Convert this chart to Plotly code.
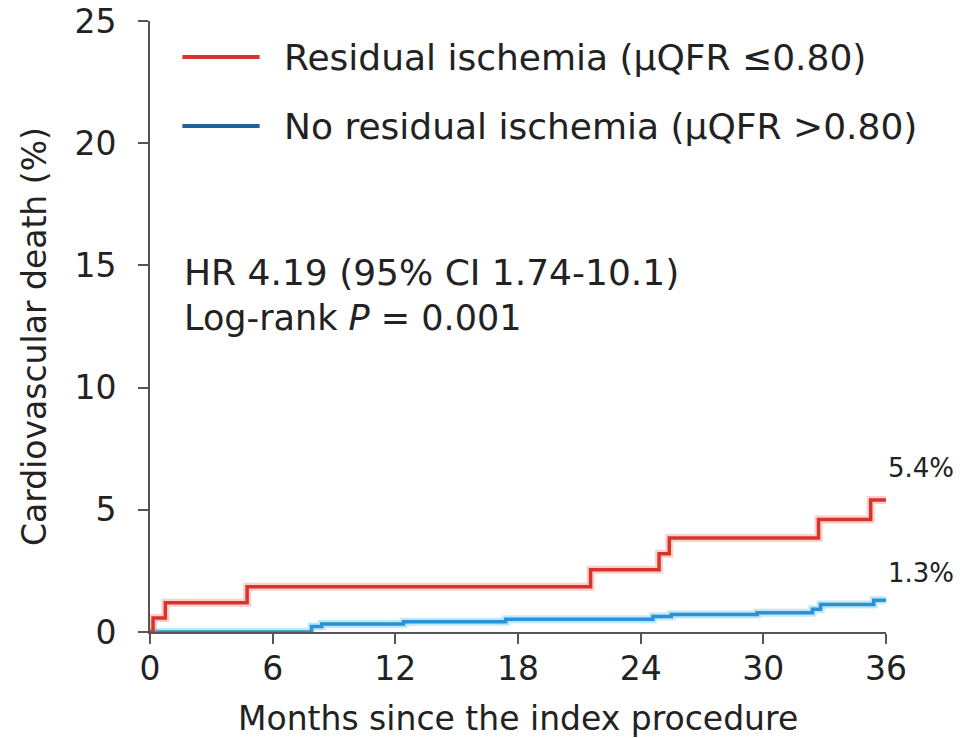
import plotly.graph_objects as go

# Kaplan-Meier cumulative incidence of cardiovascular death (%)
red_months = [0, 0.15, 0.75, 4.75, 21.55, 24.9, 25.4, 32.7, 35.25, 36]
red_pct = [0, 0.57, 1.2, 1.85, 2.55, 3.2, 3.85, 4.6, 5.4, 5.4]

blue_months = [0, 7.9, 8.4, 12.4, 17.4, 24.6, 25.5, 29.7, 32.4, 32.8, 35.4, 36]
blue_pct = [0, 0.22, 0.33, 0.42, 0.52, 0.63, 0.72, 0.79, 0.93, 1.13, 1.3, 1.3]

series_names = ["Residual ischemia (µQFR ≤0.80)", "No residual ischemia (µQFR >0.80)"]
end_labels = ["5.4%", "1.3%"]
x_ticks = [0, 6, 12, 18, 24, 30, 36]
y_ticks = [0, 5, 10, 15, 20, 25]

FONT = "DejaVu Sans"
TXT = "#222222"
RED = "#d8342c"
RED_HALO = "rgba(240,120,110,0.35)"
BLUE = "#2a92d2"
BLUE_HALO = "rgba(120,200,245,0.45)"
BLUE_LEGEND = "#24609c"
AXIS = "#555555"

fig = go.Figure()

# soft halo under each step curve, then the curve itself
for xs, ys, halo, col in [(blue_months, blue_pct, BLUE_HALO, BLUE),
                          (red_months, red_pct, RED_HALO, RED)]:
    fig.add_trace(go.Scatter(x=xs, y=ys, mode="lines", line=dict(color=halo, width=8, shape="hv"),
                             hoverinfo="skip", showlegend=False, cliponaxis=False))
    fig.add_trace(go.Scatter(x=xs, y=ys, mode="lines", line=dict(color=col, width=3.5, shape="hv"),
                             showlegend=False, cliponaxis=False))

annotations = []
shapes = []

# legend drawn as line samples plus labels
for i, (name, col) in enumerate(zip(series_names, [RED, BLUE_LEGEND])):
    yp = [0.941, 0.828][i]
    shapes.append(dict(type="line", xref="paper", yref="paper", x0=0.044, x1=0.149, y0=yp, y1=yp,
                       line=dict(color=col, width=4)))
    annotations.append(dict(xref="paper", yref="paper", x=0.179, y=yp, text=name, showarrow=False,
                            xanchor="left", yanchor="middle", font=dict(family=FONT, size=36, color=TXT)))

# statistics text
annotations.append(dict(xref="paper", yref="paper", x=0.043, y=0.589, text="HR 4.19 (95% CI 1.74-10.1)",
                        showarrow=False, xanchor="left", yanchor="middle",
                        font=dict(family=FONT, size=36, color=TXT)))
annotations.append(dict(xref="paper", yref="paper", x=0.043, y=0.514, text="Log-rank <i>P</i> = 0.001",
                        showarrow=False, xanchor="left", yanchor="middle",
                        font=dict(family=FONT, size=35, color=TXT)))

# end-of-follow-up values
for xs, ys, lab, shift in [(red_months, red_pct, end_labels[0], 32), (blue_months, blue_pct, end_labels[1], 27)]:
    annotations.append(dict(x=xs[-1], y=ys[-1], text=lab, showarrow=False, xanchor="left", yanchor="middle",
                            xshift=0, yshift=shift, font=dict(family=FONT, size=26, color=TXT)))

# axis titles
annotations.append(dict(xref="paper", yref="paper", x=0.5, y=-0.1408, text="Months since the index procedure",
                        showarrow=False, xanchor="center", yanchor="middle",
                        font=dict(family=FONT, size=33, color=TXT)))
annotations.append(dict(xref="paper", yref="paper", x=-0.156, y=0.483, text="Cardiovascular death (%)",
                        showarrow=False, xanchor="center", yanchor="middle", textangle=-90,
                        font=dict(family=FONT, size=33, color=TXT)))

fig.update_layout(
    width=960, height=738,
    margin=dict(l=150, r=74, t=21, b=106),
    paper_bgcolor="white", plot_bgcolor="white",
    showlegend=False,
    annotations=annotations, shapes=shapes,
    xaxis=dict(range=[0, 36], tickvals=x_ticks, ticktext=[str(v) for v in x_ticks], automargin=False,
               showgrid=False, zeroline=False, showline=True, linecolor=AXIS, linewidth=2,
               ticks="outside", ticklen=10, tickwidth=2, tickcolor=AXIS, layer="below traces",
               tickfont=dict(family=FONT, size=33, color=TXT), ticklabelstandoff=-4),
    yaxis=dict(range=[0, 25], tickvals=y_ticks, ticktext=[str(v) for v in y_ticks], automargin=False,
               showgrid=False, zeroline=False, showline=True, linecolor=AXIS, linewidth=2,
               ticks="outside", ticklen=10, tickwidth=2, tickcolor=AXIS, layer="below traces",
               tickfont=dict(family=FONT, size=33, color=TXT), ticklabelstandoff=15),
)

fig.write_html("out.html")
